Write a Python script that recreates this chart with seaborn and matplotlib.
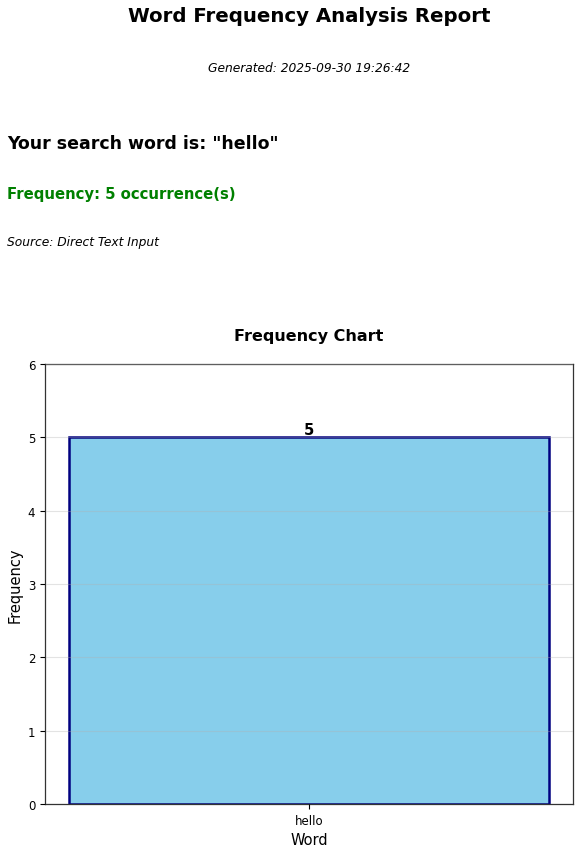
import matplotlib
matplotlib.use('Agg')
import matplotlib.pyplot as plt
import seaborn as sns
import pandas as pd

search_word = 'hello'
words = ['hello']
counts = [5]
generated = '2025-09-30 19:26:42'
source = 'Direct Text Input'


def main():
	sns.set_style('ticks')
	plt.rcParams['font.family'] = ['DejaVu Sans']
	plt.rcParams['text.color'] = 'black'
	plt.rcParams['axes.labelcolor'] = 'black'
	plt.rcParams['xtick.color'] = 'black'
	plt.rcParams['ytick.color'] = 'black'
	plt.rcParams['axes.edgecolor'] = '#333333'

	fig = plt.figure(figsize=(5.82, 8.53), dpi=100)
	W, H = 582.0, 853.0

	fig.text(309 / W, 1 - 17 / H, 'Word Frequency Analysis Report',
		ha='center', va='center', fontsize=14.2, fontweight='bold')
	fig.text(309 / W, 1 - 68 / H, f'Generated: {generated}',
		ha='center', va='center', fontsize=8.8, style='italic')
	fig.text(7 / W, 1 - 144 / H, f'Your search word is: "{search_word}"',
		ha='left', va='center', fontsize=12.5, fontweight='bold')
	fig.text(7 / W, 1 - 194 / H, f'Frequency: {counts[0]} occurrence(s)',
		ha='left', va='center', fontsize=10.7, fontweight='bold', color='green')
	fig.text(7 / W, 1 - 243 / H, f'Source: {source}',
		ha='left', va='center', fontsize=8.8, style='italic')

	ax = fig.add_axes([45 / W, 48 / H, (573 - 45) / W, (805 - 365) / H])
	df = pd.DataFrame({'word': words, 'count': counts})
	sns.barplot(data=df, x='word', y='count', ax=ax, color='skyblue',
		edgecolor='navy', linewidth=1.8, width=0.8, saturation=1)
	for i, v in enumerate(counts):
		ax.text(i, v, str(v), ha='center', va='bottom', fontsize=10.5, fontweight='bold')
	ax.set_xlim(-0.44, 0.44)
	ax.set_ylim(0, max(counts) + 1)
	ax.set_title('Frequency Chart', fontsize=11.5, fontweight='bold', pad=17)
	ax.set_xlabel('Word', fontsize=10.5)
	ax.set_ylabel('Frequency', fontsize=10.5)
	ax.tick_params(labelsize=8.5, length=3.5, width=0.8)
	ax.grid(axis='y', alpha=0.35, color='#b0b0b0', linewidth=0.8)
	ax.set_axisbelow(False)
	for s in ax.spines.values():
		s.set_visible(True)
		s.set_linewidth(0.9)

	fig.savefig('out.png', dpi=100)


if __name__ == '__main__':
	main()
